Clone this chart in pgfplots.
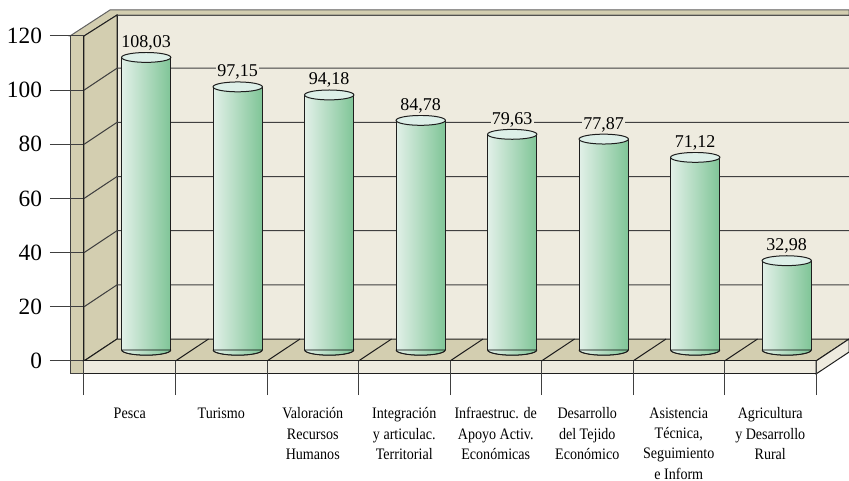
\documentclass[border=0pt]{standalone}
\usepackage{fontspec}
\setmainfont{Liberation Serif}
\newfontfamily\catfont[FakeStretch=0.88]{Liberation Serif}
\usepackage{pgfplots}
\usepackage{pgfplotstable}
\pgfplotsset{compat=1.18}

\definecolor{tan}{HTML}{D3CEB0}
\definecolor{cream}{HTML}{EEEBDF}
\definecolor{cylL}{HTML}{E2F0E8}
\definecolor{cylR}{HTML}{7FC597}
\definecolor{cylT}{HTML}{DDEFE8}
\definecolor{ink}{HTML}{1E1E1E}

% 1 px of the reference = 0.75pt
\pgfdeclareplotmark{cyltop}{%
  \path[draw=ink,line width=0.75pt,fill=cylT,rotate=5] (0pt,0pt) ellipse [x radius=18.5pt,y radius=3.7pt];}
% marks come on top of the bars, so only the lower half of the base
\pgfdeclareplotmark{cylbase}{%
  \path[left color=cylL,right color=cylR,rotate=2] (-18.4pt,0pt) arc [start angle=180,end angle=360,x radius=18.4pt,y radius=3.9pt] -- cycle;
  \path[draw=ink,line width=0.75pt,rotate=2] (-18.4pt,0pt) arc [start angle=180,end angle=360,x radius=18.4pt,y radius=3.9pt];}

\pgfplotstableread{
x y b
0 108.03 0
1 97.15 0
2 94.18 0
3 84.78 0
4 79.63 0
5 77.87 0
6 71.12 0
7 32.98 0
}\cyl

\begin{document}
\begin{tikzpicture}
\path[use as bounding box,clip] (0,0) rectangle (636.75pt,360.75pt);

% chart frame
\begin{axis}[
  at={(63pt,90pt)},anchor=south west,
  scale only axis,width=549pt,height=243.75pt,
  xmin=0,xmax=8,ymin=0,ymax=120,
  clip=false,axis on top,
  axis lines*=left,axis line style={-,ink,line width=0.75pt},
  xtick={0,...,8},ytick={0,20,...,120},
  x tick label as interval,
  xticklabels={Pesca,Turismo,{Valoración\\Recursos\\Humanos},{Integración\\y articulac.\\Territorial},{Infraestruc. de\\Apoyo Activ.\\Económicas},{Desarrollo\\del Tejido\\Económico},{Asistencia\\Técnica,\\Seguimiento\\e Inform},{Agricultura\\y Desarrollo\\Rural}},
  xticklabel style={align=center,anchor=north,yshift=-6pt,font=\catfont\fontsize{12pt}{15.25pt}\selectfont},
  yticklabel style={font=\fontsize{17.5pt}{20pt}\selectfont,xshift=-2.5pt},
  /pgf/number format/assume math mode=true,
  tick align=outside,major tick length=25.5pt,
  tick style={ink!85,line width=0.75pt},
]
% walls and floor
\addplot[fill=cream,draw=ink,line width=0.75pt] coordinates {(0.361,8.12) (0.361,127.75) (8.361,127.75) (8.361,8.12)} --cycle;
\addplot[fill=tan,draw=ink!70,line width=0.75pt] coordinates {(0.284,129.6) (8.361,129.6) (8.361,127.75) (0.361,127.75) (0,120) (-0.153,120)} --cycle;
\addplot[fill=tan,draw=ink,line width=0.75pt] coordinates {(0,0) (0.361,8.12) (0.361,127.75) (0,120)} --cycle;
\addplot[fill=tan,draw=none] coordinates {(-0.153,120) (0,120) (0,-4.8) (-0.153,-4.8)} --cycle;
\addplot[ink!85,line width=0.75pt] coordinates {(-0.153,120) (-0.153,-4.8) (0,-4.8)};
\addplot[fill=tan,draw=ink,line width=0.75pt] coordinates {(0,0) (0.361,8.12) (8.361,8.12) (8,0)} --cycle;
\addplot[fill=cream,draw=ink,line width=0.75pt] coordinates {(0,0) (8,0) (8,-4.8) (0,-4.8)} --cycle;
\addplot[fill=cream,draw=ink,line width=0.75pt] coordinates {(8,0) (8.361,8.12) (8.361,3.3) (8,-4.8)} --cycle;
% grid on the walls
\addplot[ink!85,line width=0.75pt] coordinates {(0,20) (0.361,28.12) (8.361,28.12)};
\addplot[ink!85,line width=0.75pt] coordinates {(0,40) (0.361,48.12) (8.361,48.12)};
\addplot[ink!85,line width=0.75pt] coordinates {(0,60) (0.361,68.12) (8.361,68.12)};
\addplot[ink!85,line width=0.75pt] coordinates {(0,80) (0.361,88.12) (8.361,88.12)};
\addplot[ink!85,line width=0.75pt] coordinates {(0,100) (0.361,108.12) (8.361,108.12)};
% floor divisions
\addplot[ink,line width=0.75pt] coordinates {(1,0) (1.361,8.12)};
\addplot[ink,line width=0.75pt] coordinates {(2,0) (2.361,8.12)};
\addplot[ink,line width=0.75pt] coordinates {(3,0) (3.361,8.12)};
\addplot[ink,line width=0.75pt] coordinates {(4,0) (4.361,8.12)};
\addplot[ink,line width=0.75pt] coordinates {(5,0) (5.361,8.12)};
\addplot[ink,line width=0.75pt] coordinates {(6,0) (6.361,8.12)};
\addplot[ink,line width=0.75pt] coordinates {(7,0) (7.361,8.12)};
\end{axis}

% cylinders, same box shifted half a depth back
\begin{axis}[
  at={(63pt,90pt)},anchor=south west,
  scale only axis,width=549pt,height=243.75pt,
  xmin=-0.68,xmax=7.32,ymin=-4.06,ymax=115.94,
  clip=false,hide axis,
]
\addplot[only marks,mark=cylbase] table[x=x,y=b] {\cyl};
% one plot per bar, each gets its own shading
\pgfplotsinvokeforeach{0,...,7}{
  \addplot[ybar,bar width=36.8pt,bar shift=0pt,draw=none,left color=cylL,right color=cylR,
    restrict x to domain=#1:#1] table[x=x,y=y] {\cyl};
}
\addplot[ybar,bar width=0pt,bar shift=-18.4pt,draw=ink,line width=0.75pt] table[x=x,y=y] {\cyl};
\addplot[ybar,bar width=0pt,bar shift=18.4pt,draw=ink,line width=0.75pt] table[x=x,y=y] {\cyl};
\addplot[only marks,mark=cyltop,point meta=y,
  nodes near coords,
  nodes near coords style={anchor=center,yshift=10.9pt,fill=cream,inner sep=1pt,
    font=\fontsize{13.5pt}{15pt}\selectfont,
    /pgf/number format/.cd,fixed,fixed zerofill,precision=2,use comma,assume math mode=true},
] table[x=x,y=y] {\cyl};
\end{axis}
\end{tikzpicture}
\end{document}
